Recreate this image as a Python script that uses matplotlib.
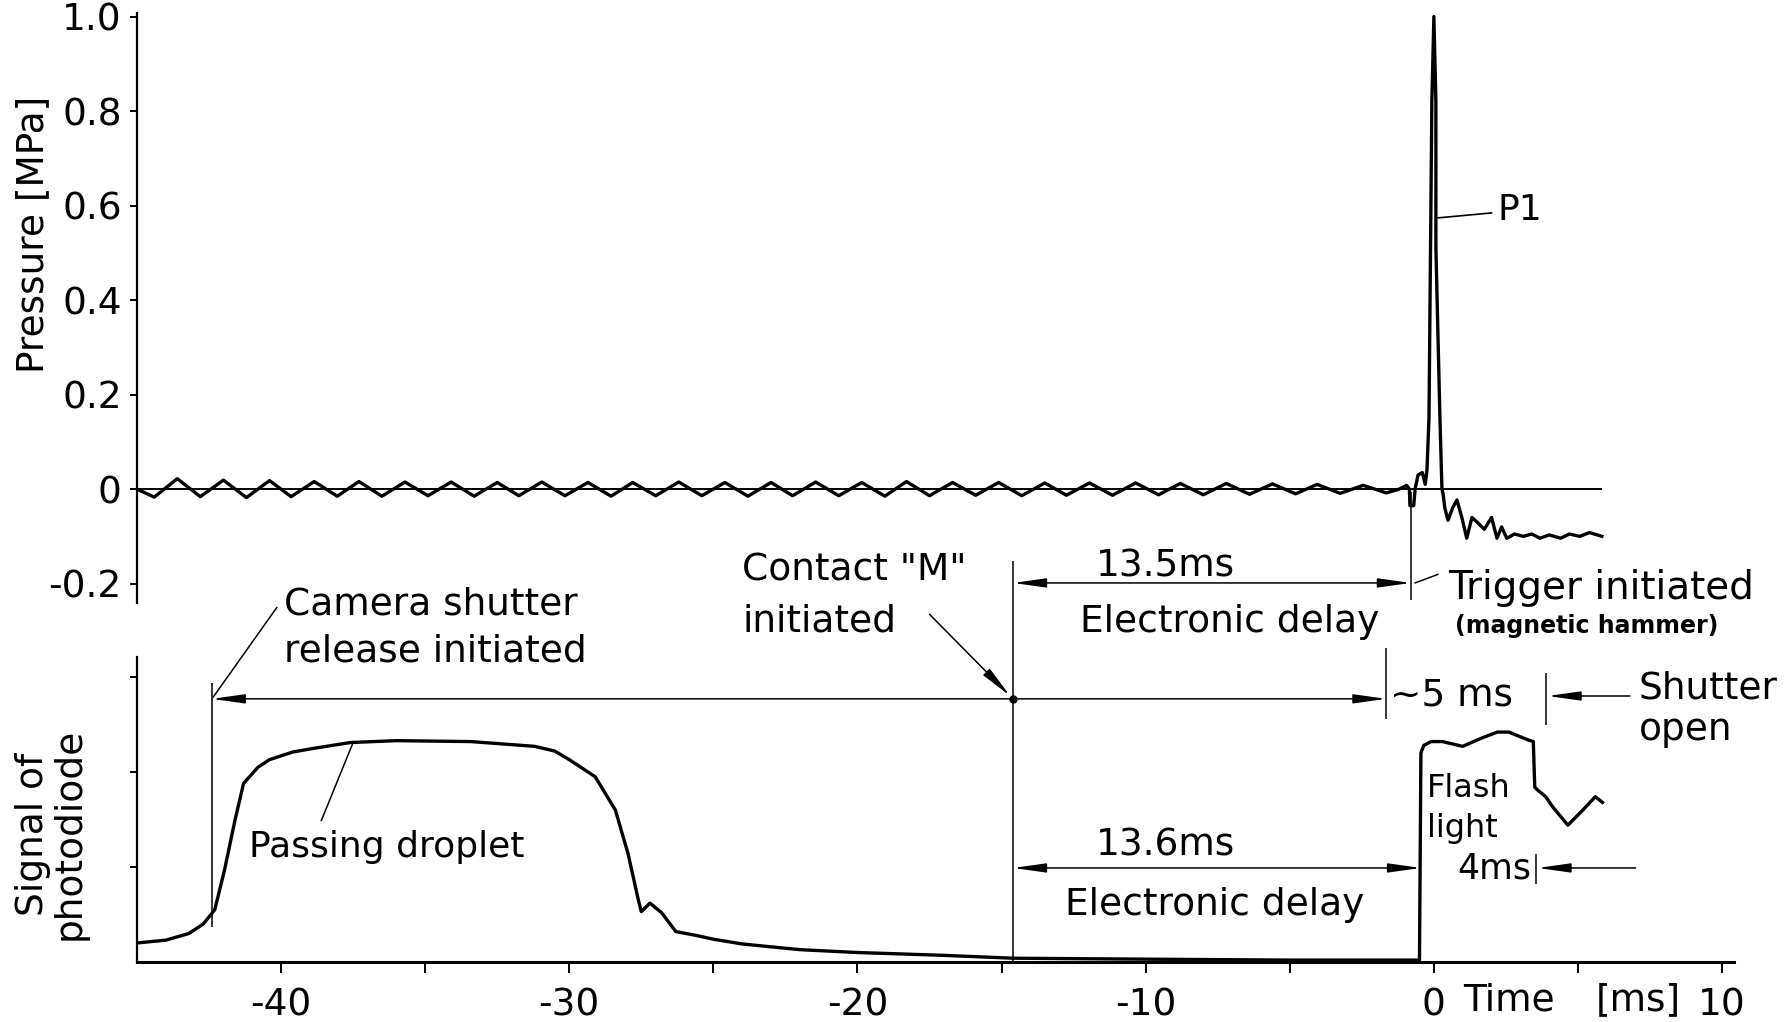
import matplotlib
matplotlib.use('Agg')
import matplotlib.pyplot as plt
from matplotlib.patches import ArrowStyle

plt.rcParams['font.family'] = ['DejaVu Sans']
plt.rcParams['axes.unicode_minus'] = False

# event times (ms)
t_camera = -42.4
t_contact = -14.6
t_trigger = -0.8
t_5ms = -1.65
t_flash_on = -0.45
t_flash_off = 3.5
t_shutter = 3.9

# pressure P1 [MPa]: ripple before the trigger (peaks and troughs)
peak_t = [-43.6, -42.0, -40.4, -38.85, -37.3, -35.7, -34.1, -32.5, -30.95, -29.35,
          -27.8, -26.2, -24.6, -23.0, -21.45, -19.85, -18.3, -16.7, -15.1, -13.5,
          -11.95, -10.35, -8.8, -7.2, -5.6, -4.05, -2.45]
peak_p = [0.022, 0.019, 0.018, 0.016, 0.016, 0.015, 0.015, 0.014, 0.015, 0.014,
          0.014, 0.015, 0.014, 0.014, 0.015, 0.014, 0.016, 0.014, 0.014, 0.013,
          0.013, 0.013, 0.012, 0.012, 0.011, 0.010, 0.008]
trough_t = [-44.4, -42.8, -41.2, -39.65, -38.05, -36.5, -34.9, -33.3, -31.75, -30.15,
            -28.55, -27.0, -25.4, -23.8, -22.25, -20.65, -19.05, -17.5, -15.9, -14.3,
            -12.75, -11.15, -9.55, -8.0, -6.4, -4.8, -3.25, -1.65]
trough_p = [-0.017, -0.016, -0.018, -0.016, -0.015, -0.015, -0.014, -0.015, -0.014, -0.014,
            -0.015, -0.014, -0.014, -0.015, -0.014, -0.014, -0.015, -0.014, -0.013, -0.014,
            -0.013, -0.013, -0.012, -0.012, -0.011, -0.010, -0.009, -0.008]
# pressure P1: trigger, peak and decay
spike_t = [-1.2, -0.95, -0.85, -0.83, -0.7, -0.65, -0.55, -0.4, -0.3, -0.24, -0.17,
           -0.07, 0.0, 0.07, 0.07, 0.21, 0.28, 0.32, 0.38, 0.49, 0.65, 0.8, 0.97,
           1.14, 1.32, 1.5, 1.75, 2.0, 2.19, 2.35, 2.53, 2.8, 3.1, 3.4, 3.68, 4.0,
           4.4, 4.7, 5.06, 5.4, 5.83]
spike_p = [0.0, 0.008, 0.0, -0.035, -0.035, 0.0, 0.03, 0.035, 0.01, 0.04, 0.15,
           0.82, 1.0, 0.82, 0.51, 0.15, 0.0, -0.01, -0.04, -0.066, -0.04, -0.023, -0.06,
           -0.104, -0.06, -0.07, -0.085, -0.06, -0.104, -0.08, -0.104, -0.095, -0.1, -0.095, -0.104, -0.097,
           -0.104, -0.095, -0.1, -0.092, -0.1]

# photodiode signal (arbitrary units)
diode_t = [-45.0, -44.0, -43.2, -42.7, -42.3, -41.96, -41.6, -41.3, -40.8, -40.4,
           -39.6, -38.85, -37.6, -36.0, -33.4, -31.2, -30.5, -30.0, -29.1, -28.4,
           -27.96, -27.6, -27.5, -27.2, -26.8, -26.3, -25.6, -25.0, -24.0, -22.0,
           -20.0, -17.0, -14.6, -10.0, -5.0, -0.5, -0.45, -0.35, -0.1, 0.3,
           1.0, 1.6, 2.2, 2.6, 3.25, 3.45, 3.5, 3.6, 3.88, 4.13,
           4.65, 5.17, 5.6, 5.85]
diode_v = [0.20, 0.23, 0.30, 0.40, 0.55, 0.97, 1.49, 1.88, 2.05, 2.13,
           2.21, 2.25, 2.31, 2.33, 2.32, 2.27, 2.22, 2.13, 1.95, 1.60,
           1.14, 0.65, 0.53, 0.62, 0.52, 0.32, 0.28, 0.24, 0.19, 0.13,
           0.10, 0.07, 0.04, 0.03, 0.02, 0.02, 2.20, 2.28, 2.32, 2.32,
           2.27, 2.35, 2.42, 2.42, 2.34, 2.32, 1.84, 1.81, 1.74, 1.63,
           1.44, 1.60, 1.74, 1.68]

osc = sorted(zip(peak_t + trough_t, peak_p + trough_p))
press_t = [-45.0] + [a for a, b in osc] + spike_t
press_p = [0.0] + [b for a, b in osc] + spike_p

FS = 27
fig = plt.figure(figsize=(17.9, 10.22), dpi=100)
ax1 = fig.add_axes([0.0765, 0.41, 0.892, 0.577])
ax2 = fig.add_axes([0.0765, 0.0587, 0.892, 0.2984])
xlim = (-45, 10.4)

# ---- pressure panel
ax1.plot(press_t, press_p, color='black', lw=2.4, solid_joinstyle='round')
ax1.hlines(0, press_t[0], press_t[-1], color='black', lw=1.4)
ax1.set_xlim(xlim)
ax1.set_ylim(-0.241, 1.007)
for s in ['top', 'right', 'bottom']:
    ax1.spines[s].set_visible(False)
ax1.spines['left'].set_linewidth(1.6)
ax1.set_yticks([-0.2, 0, 0.2, 0.4, 0.6, 0.8, 1.0])
ax1.set_yticklabels(['-0.2', '0', '0.2', '0.4', '0.6', '0.8', '1.0'])
ax1.tick_params(axis='y', labelsize=FS, length=5, width=1.4, pad=6)
ax1.tick_params(axis='x', bottom=False, labelbottom=False)
ax1.set_ylabel('Pressure [MPa]', fontsize=FS)
ax1.yaxis.set_label_coords(-0.054, 0.625)
ax1.annotate('P1', xy=(0.14, 0.574), xytext=(2.2, 0.59), fontsize=26, va='center',
             arrowprops=dict(arrowstyle='-', lw=1.2, color='black', shrinkA=2, shrinkB=0))

# ---- photodiode panel
ax2.plot(diode_t, diode_v, color='black', lw=2.4, solid_joinstyle='round')
ax2.set_xlim(xlim)
ax2.set_ylim(0, 3.21)
for s in ['top', 'right']:
    ax2.spines[s].set_visible(False)
ax2.spines['left'].set_linewidth(1.6)
ax2.spines['bottom'].set_linewidth(2.2)
ax2.set_yticks([1, 2, 3])
ax2.set_yticklabels([])
ax2.tick_params(axis='y', length=5, width=1.4)
xt = [-40, -35, -30, -25, -20, -15, -10, -5, 0, 5, 10]
ax2.set_xticks(xt)
ax2.set_xticklabels([str(v) if v % 10 == 0 else '' for v in xt])
ax2.tick_params(axis='x', labelsize=FS, length=8, width=1.4, pad=10)
ax2.text(2.6, -0.125, 'Time', transform=ax2.get_xaxis_transform(), fontsize=FS,
         ha='center', va='center')
ax2.text(7.1, -0.125, '[ms]', transform=ax2.get_xaxis_transform(), fontsize=FS,
         ha='center', va='center')
ax2.set_ylabel('Signal of\nphotodiode', fontsize=FS, linespacing=1.0)
ax2.yaxis.set_label_coords(-0.031, 0.42)

# ---- timing annotations (bottom panel data coordinates, drawn outside the box)
thin = dict(color='black', lw=1.1, clip_on=False)
both = ArrowStyle('<|-|>', head_length=1.0, head_width=0.14)
one = ArrowStyle('-|>', head_length=1.0, head_width=0.14)


def arrow(x0, x1, y, style):
    ax2.annotate('', xy=(x1, y), xytext=(x0, y), annotation_clip=False,
                 arrowprops=dict(arrowstyle=style, mutation_scale=20, lw=1.1,
                                 color='black', shrinkA=0, shrinkB=0))


def label(x, y, s, **kw):
    kw.setdefault('fontsize', FS)
    kw.setdefault('va', 'center')
    ax2.text(x, y, s, clip_on=False, **kw)


# camera shutter
ax2.vlines(t_camera, 0.37, 2.94, **thin)
ax2.plot([-40.15, t_camera + 0.05], [3.73, 2.79], **thin)
label(-39.9, 3.76, 'Camera shutter')
label(-39.9, 3.27, 'release initiated')
arrow(t_5ms, t_camera, 2.77, both)
ax2.plot([t_contact], [2.77], 'o', color='black', ms=5, clip_on=False)

# contact M
ax2.vlines(t_contact, 0, 4.22, **thin)
label(-24.0, 4.12, 'Contact "M"')
label(-24.0, 3.58, 'initiated')
ax2.annotate('', xy=(t_contact - 0.1, 2.8), xytext=(-17.5, 3.66), annotation_clip=False,
             arrowprops=dict(arrowstyle=one, mutation_scale=20, lw=1.1,
                             color='black', shrinkA=0, shrinkB=0))

# upper electronic delay to trigger
ax2.vlines(t_trigger, 3.81, 4.95, **thin)
arrow(t_contact, t_trigger, 3.99, both)
label(-9.3, 4.16, '13.5ms', ha='center')
label(-7.1, 3.58, 'Electronic delay', ha='center')
ax2.plot([t_trigger + 0.15, 0.14], [3.99, 4.08], **thin)
label(0.49, 3.94, 'Trigger initiated', fontsize=28)
label(0.73, 3.54, '(magnetic hammer)', fontsize=17, fontweight='bold')

# ~5 ms and shutter open
ax2.vlines(t_5ms, 2.56, 3.31, **thin)
label(t_5ms + 0.12, 2.8, '~5 ms')
ax2.vlines(t_shutter, 2.49, 3.04, **thin)
arrow(6.8, t_shutter + 0.05, 2.8, one)
label(7.1, 2.88, 'Shutter')
label(7.1, 2.44, 'open')

# lower electronic delay to flash
arrow(t_contact, t_flash_on, 0.99, both)
label(-9.3, 1.23, '13.6ms', ha='center')
label(-7.6, 0.6, 'Electronic delay', ha='center')
label(-0.24, 1.83, 'Flash', fontsize=23)
label(-0.24, 1.41, 'light', fontsize=23)
label(0.83, 0.98, '4ms', fontsize=25)
ax2.vlines(t_flash_off + 0.05, 0.82, 1.14, **thin)
arrow(7.0, t_flash_off + 0.1, 0.99, one)

# passing droplet
ax2.plot([-38.6, -37.5], [1.49, 2.31], **thin)
label(-41.1, 1.21, 'Passing droplet', fontsize=26)

fig.savefig('out.png', dpi=100, facecolor='white')
